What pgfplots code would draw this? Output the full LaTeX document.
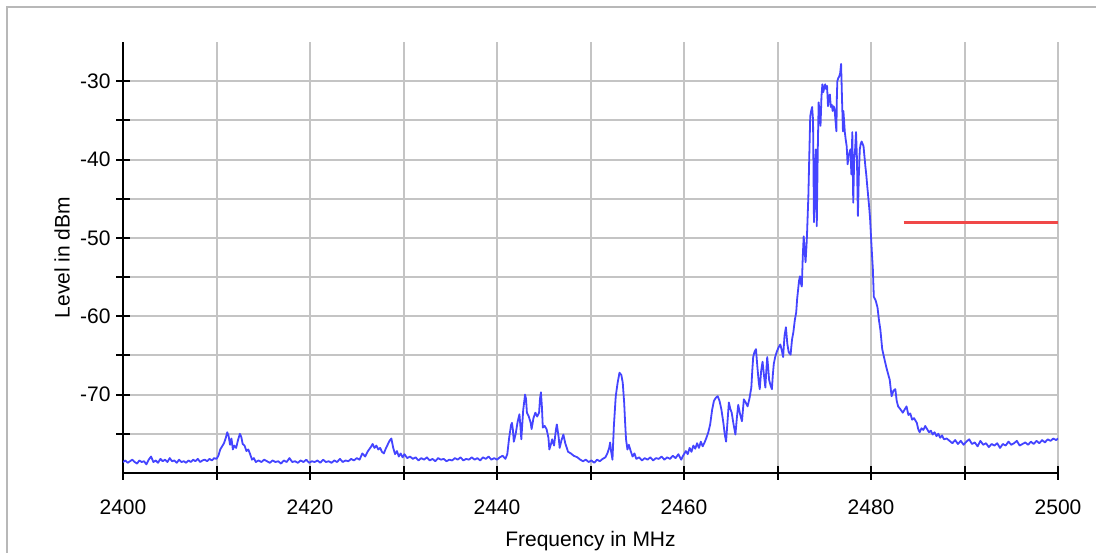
\documentclass[border=0pt]{standalone}
\usepackage{fontspec}
\setmainfont{Liberation Sans}
\usepackage{pgfplots}
\pgfplotsset{compat=1.18}
\definecolor{trace}{HTML}{4444FF}
\definecolor{limit}{HTML}{F04848}
\definecolor{gridc}{HTML}{C4C4C4}
\definecolor{framec}{HTML}{B8B8B8}
\begin{document}
\begin{tikzpicture}[x=1pt,y=1pt]
\useasboundingbox (0,0) rectangle (1096,553);
\draw[framec, line width=2pt] (7,0) -- (7,546) -- (1096,546);
\begin{axis}[
  at={(123pt,80pt)}, anchor=south west,
  scale only axis, width=935pt, height=431pt,
  xmin=2400, xmax=2500, ymin=-80, ymax=-25,
  axis lines=left, axis line style={-, black, line width=2pt},
  xtick={2400,2420,2440,2460,2480,2500},
  xticklabels={2400,2420,2440,2460,2480,2500},
  minor xtick={2410,2430,2450,2470,2490},
  ytick={-70,-60,-50,-40,-30},
  yticklabels={-70,-60,-50,-40,-30},
  minor ytick={-75,-65,-55,-45,-35},
  tick align=center,
  major tick length=14pt, minor tick length=14pt,
  tick style={black, line width=2pt},
  grid=both,
  major grid style={gridc, line width=2pt},
  minor grid style={gridc, line width=2pt},
  every tick label/.append style={font=\fontsize{21}{25}\selectfont},
  xticklabel style={anchor=center, yshift=-27pt},
  yticklabel style={anchor=east, xshift=-2pt},
  every axis x label/.style={at={(axis description cs:0.5,-0.158)}, anchor=center, font=\fontsize{21}{25}\selectfont},
  every axis y label/.style={at={(axis description cs:-0.0652,0.5)}, anchor=center, rotate=90, font=\fontsize{21}{25}\selectfont},
  xlabel={Frequency in MHz},
  ylabel={Level in dBm},
  clip=true,
]
\addplot[trace, line width=1.8pt, line join=round] coordinates {
(2400,-78.6)(2400.25,-78.4)(2400.5,-78.7)(2400.75,-78.5)(2401,-78.3)(2401.25,-78.6)(2401.5,-78.8)(2401.75,-78.4)(2402,-78.6)(2402.25,-78.5)(2402.5,-78.9)(2402.75,-78.3)(2403,-77.9)(2403.25,-78.6)(2403.5,-78.4)(2403.75,-78.7)(2404,-78.2)(2404.25,-78.5)(2404.5,-78.3)(2404.75,-78.6)(2405,-78.1)(2405.25,-78.5)(2405.5,-78.4)(2405.75,-78.7)(2406,-78.3)(2406.25,-78.6)(2406.5,-78.5)(2406.75,-78.7)(2407,-78.4)(2407.25,-78.6)(2407.5,-78.3)(2407.75,-78.5)(2408,-78.2)(2408.25,-78.6)(2408.5,-78.4)(2408.75,-78.3)(2409,-78.5)(2409.25,-78.2)(2409.5,-78.4)(2409.75,-78.1)(2410,-78.2)
(2410.2,-77.8)(2410.4,-77.0)(2410.6,-76.6)(2410.8,-76.2)(2411,-75.5)(2411.15,-74.8)(2411.3,-75.3)(2411.45,-76.4)(2411.6,-75.6)(2411.75,-77.0)(2411.9,-76.5)(2412.1,-76.8)(2412.3,-75.8)(2412.5,-75.0)(2412.65,-75.4)(2412.8,-76.3)(2413,-76.5)(2413.2,-77.2)(2413.4,-77.0)(2413.6,-77.6)(2413.8,-78.3)(2414,-78.1)(2414.2,-78.6)
(2414.5,-78.4)(2414.8,-78.6)(2415.1,-78.3)(2415.4,-78.5)(2415.7,-78.7)(2416,-78.4)(2416.3,-78.6)(2416.6,-78.5)(2416.9,-78.8)(2417.2,-78.4)(2417.5,-78.6)(2417.8,-78.1)(2418.1,-78.6)(2418.4,-78.5)(2418.7,-78.7)(2419,-78.4)(2419.3,-78.6)(2419.6,-78.3)(2419.9,-78.7)(2420.2,-78.5)(2420.5,-78.6)(2420.8,-78.4)(2421.1,-78.7)(2421.4,-78.3)(2421.7,-78.6)(2422,-78.5)(2422.3,-78.7)(2422.6,-78.4)(2422.9,-78.6)(2423.2,-78.2)(2423.5,-78.6)(2423.8,-78.4)(2424.1,-78.5)(2424.4,-78.2)(2424.7,-78.4)(2425,-78.1)(2425.3,-78.3)
(2425.6,-77.5)(2425.9,-77.9)(2426.2,-77.2)(2426.5,-76.7)(2426.7,-76.3)(2426.9,-76.8)(2427.1,-76.5)(2427.3,-77.0)(2427.5,-76.8)(2427.7,-77.3)(2427.9,-77.5)(2428.1,-76.9)(2428.3,-76.4)(2428.5,-75.9)(2428.7,-75.6)(2428.9,-76.8)(2429.1,-77.6)(2429.3,-77.2)(2429.5,-77.9)(2429.7,-77.5)(2429.9,-78.0)(2430.1,-77.6)(2430.4,-78.1)
(2430.7,-77.9)(2431,-78.2)(2431.3,-78.0)(2431.6,-78.4)(2431.9,-78.1)(2432.2,-78.3)(2432.5,-78.0)(2432.8,-78.4)(2433.1,-78.2)(2433.4,-78.5)(2433.7,-78.1)(2434,-78.3)(2434.3,-78.2)(2434.6,-78.5)(2434.9,-78.3)(2435.2,-78.4)(2435.5,-78.1)(2435.8,-78.3)(2436.1,-78.0)(2436.4,-78.4)(2436.7,-78.2)(2437,-78.3)(2437.3,-78.0)(2437.6,-78.3)(2437.9,-78.1)(2438.2,-78.4)(2438.5,-78.0)(2438.8,-78.2)(2439.1,-77.9)(2439.4,-78.3)(2439.7,-78.1)(2440,-78.3)(2440.3,-78.0)(2440.6,-77.8)(2440.9,-78.2)
(2441.1,-77.6)(2441.3,-75.5)(2441.5,-73.9)(2441.6,-73.6)(2441.7,-74.5)(2441.8,-76.0)(2442.0,-75.0)(2442.2,-73.5)(2442.4,-72.5)(2442.5,-74.0)(2442.6,-75.7)(2442.8,-72.0)(2443.0,-70.0)(2443.1,-70.5)(2443.2,-72.3)(2443.4,-72.8)(2443.6,-73.6)(2443.7,-74.4)(2443.9,-73.0)(2444.1,-72.3)(2444.3,-72.8)(2444.5,-72.3)(2444.6,-70.5)(2444.7,-69.7)(2444.8,-71.5)(2444.9,-74.2)(2445.1,-74.0)(2445.3,-74.4)(2445.5,-75.5)(2445.6,-77.0)(2445.8,-76.2)(2445.9,-75.7)(2446.1,-76.5)(2446.3,-74.5)(2446.4,-73.8)(2446.6,-75.5)(2446.7,-76.8)(2446.9,-75.8)(2447.1,-75.1)(2447.3,-76.2)(2447.6,-77.3)(2447.9,-77.5)(2448.2,-77.8)(2448.6,-78.0)(2448.9,-78.3)(2449.2,-78.5)
(2449.5,-78.3)(2449.8,-78.6)(2450.1,-78.4)(2450.4,-78.7)(2450.7,-78.3)(2451.0,-78.5)(2451.3,-78.2)(2451.6,-78.0)(2451.8,-77.5)(2452.0,-76.8)(2452.1,-76.1)(2452.2,-77.2)(2452.35,-78.3)(2452.5,-74.0)(2452.7,-70.2)(2452.9,-68.5)(2453.1,-67.2)(2453.3,-67.5)(2453.45,-68.5)(2453.6,-71.0)(2453.7,-73.5)(2453.8,-75.7)(2453.95,-77.0)(2454.1,-76.4)(2454.3,-77.2)(2454.5,-77.9)(2454.7,-77.5)(2454.9,-78.2)
(2455.2,-78.0)(2455.5,-78.4)(2455.8,-78.1)(2456.1,-78.3)(2456.4,-78.0)(2456.7,-78.4)(2457,-78.1)(2457.3,-78.2)(2457.6,-77.9)(2457.9,-78.3)(2458.2,-78.0)(2458.5,-78.2)(2458.8,-77.8)(2459.1,-78.1)(2459.4,-77.6)(2459.7,-78.3)(2459.9,-77.8)
(2460.2,-77.2)(2460.4,-77.6)(2460.6,-76.8)(2460.8,-77.3)(2461.0,-76.5)(2461.2,-76.9)(2461.4,-76.2)(2461.6,-76.8)(2461.8,-76.0)(2462.0,-76.6)(2462.2,-76.1)(2462.4,-75.5)(2462.6,-74.8)(2462.8,-73.8)(2463.0,-72.0)(2463.2,-70.8)(2463.4,-70.4)(2463.6,-70.2)(2463.8,-70.8)(2464.0,-71.9)(2464.2,-73.5)(2464.35,-75.0)(2464.5,-76.0)(2464.65,-73.5)(2464.8,-71.0)(2464.95,-71.8)(2465.1,-72.3)(2465.3,-73.8)(2465.5,-75.1)(2465.65,-73.0)(2465.8,-71.3)(2466.0,-72.5)(2466.2,-73.4)(2466.4,-70.6)(2466.6,-71.0)(2466.8,-71.5)(2467.0,-70.5)(2467.2,-69.1)(2467.3,-67.0)(2467.4,-65.2)(2467.55,-64.5)(2467.7,-64.2)(2467.85,-66.5)(2468.0,-68.5)(2468.1,-69.3)(2468.25,-67.0)(2468.4,-65.8)(2468.55,-67.5)(2468.7,-69.1)(2468.8,-67.0)(2468.9,-65.2)(2469.0,-66.5)(2469.1,-68.1)(2469.25,-68.8)(2469.4,-69.3)(2469.5,-67.5)(2469.6,-66.1)(2469.75,-65.2)(2469.9,-64.6)(2470.1,-64.0)(2470.3,-63.6)(2470.45,-64.3)(2470.6,-65.2)(2470.75,-62.5)(2470.9,-61.4)(2471.05,-63.5)(2471.2,-64.6)(2471.4,-64.9)(2471.55,-63.0)(2471.7,-62.0)(2471.85,-60.5)(2472.0,-59.5)(2472.1,-57.8)
(2472.3,-55.5)(2472.4,-54.9)(2472.5,-55.8)(2472.6,-56.2)(2472.7,-52.5)(2472.8,-49.8)(2472.9,-51.5)(2473.0,-53.1)(2473.1,-51.0)(2473.15,-49.8)(2473.3,-44.7)(2473.4,-39.5)(2473.5,-34.5)(2473.6,-33.8)(2473.7,-33.3)(2473.8,-34.9)(2473.9,-48.0)(2474.0,-44.0)(2474.1,-38.7)(2474.15,-42.0)(2474.2,-48.5)(2474.25,-44.0)(2474.3,-39.3)(2474.4,-32.7)(2474.5,-34.0)(2474.6,-35.7)(2474.7,-32.0)(2474.8,-30.4)(2474.9,-31.4)(2475.0,-30.8)(2475.1,-30.4)(2475.2,-31.0)(2475.3,-30.6)(2475.4,-33.2)(2475.5,-32.0)(2475.6,-31.7)(2475.7,-33.3)(2475.8,-33.0)(2475.9,-33.8)(2476.0,-33.2)(2476.1,-33.5)(2476.2,-35.0)(2476.3,-36.4)(2476.35,-32.0)(2476.4,-30.0)(2476.5,-29.6)(2476.6,-29.4)(2476.7,-29.0)(2476.8,-27.8)(2476.85,-30.0)(2476.9,-32.3)(2477.0,-36.4)(2477.05,-33.8)(2477.2,-36.5)(2477.3,-37.5)(2477.4,-38.3)(2477.5,-40.6)(2477.6,-39.5)(2477.8,-38.7)(2477.9,-41.9)(2478.0,-36.5)(2478.1,-45.5)(2478.2,-40.0)(2478.3,-38.7)(2478.4,-36.5)(2478.5,-40.0)(2478.55,-43.8)(2478.6,-47.2)(2478.7,-42.0)(2478.8,-38.7)(2478.9,-38.0)(2479.0,-37.7)(2479.2,-38.3)(2479.4,-40.9)(2479.5,-42.0)(2479.6,-43.4)(2479.8,-46.0)(2479.9,-47.5)(2480.0,-49.8)(2480.1,-52.0)(2480.2,-54.0)(2480.3,-57.5)(2480.5,-58.0)(2480.7,-58.9)(2480.85,-60.5)(2481.0,-61.7)(2481.2,-64.2)(2481.5,-65.8)(2481.7,-66.8)(2482.0,-68.1)(2482.2,-70.2)(2482.4,-69.5)(2482.6,-69.3)(2482.75,-70.8)(2482.9,-71.5)(2483.1,-71.8)(2483.4,-72.3)(2483.6,-71.9)(2483.8,-71.5)(2484.0,-72.6)(2484.2,-72.4)(2484.4,-73.2)(2484.6,-73.0)(2484.9,-73.6)(2485.05,-74.4)(2485.2,-74.8)(2485.4,-74.3)(2485.6,-74.5)(2485.8,-74.0)(2486.0,-74.4)(2486.2,-74.8)(2486.4,-74.6)(2486.6,-75.1)(2486.8,-74.8)(2487.0,-75.3)(2487.2,-75.0)(2487.4,-75.5)(2487.6,-75.2)(2487.8,-75.7)
(2488.1,-75.6)(2488.4,-75.9)(2488.7,-76.2)(2489.0,-75.8)(2489.3,-76.3)(2489.6,-75.9)(2489.9,-76.4)(2490.2,-76.0)(2490.5,-75.7)(2490.8,-76.3)(2491.1,-76.1)(2491.4,-76.6)(2491.7,-75.9)(2492.0,-76.4)(2492.3,-76.2)(2492.6,-76.7)(2492.9,-76.3)(2493.2,-76.5)(2493.5,-76.2)(2493.8,-76.8)(2494.1,-76.3)(2494.4,-76.5)(2494.7,-76.0)(2495.0,-76.4)(2495.3,-76.2)(2495.6,-75.9)(2495.9,-76.5)(2496.2,-76.3)(2496.5,-76.1)(2496.8,-76.4)(2497.1,-76.0)(2497.4,-76.3)(2497.7,-75.9)(2498.0,-76.2)(2498.3,-75.8)(2498.6,-76.1)(2498.9,-75.7)(2499.2,-75.9)(2499.5,-75.6)(2499.8,-75.8)(2500,-75.6)
};
\addplot[limit, line width=3pt] coordinates {(2483.5,-48)(2500,-48)};
\end{axis}
\end{tikzpicture}
\end{document}
